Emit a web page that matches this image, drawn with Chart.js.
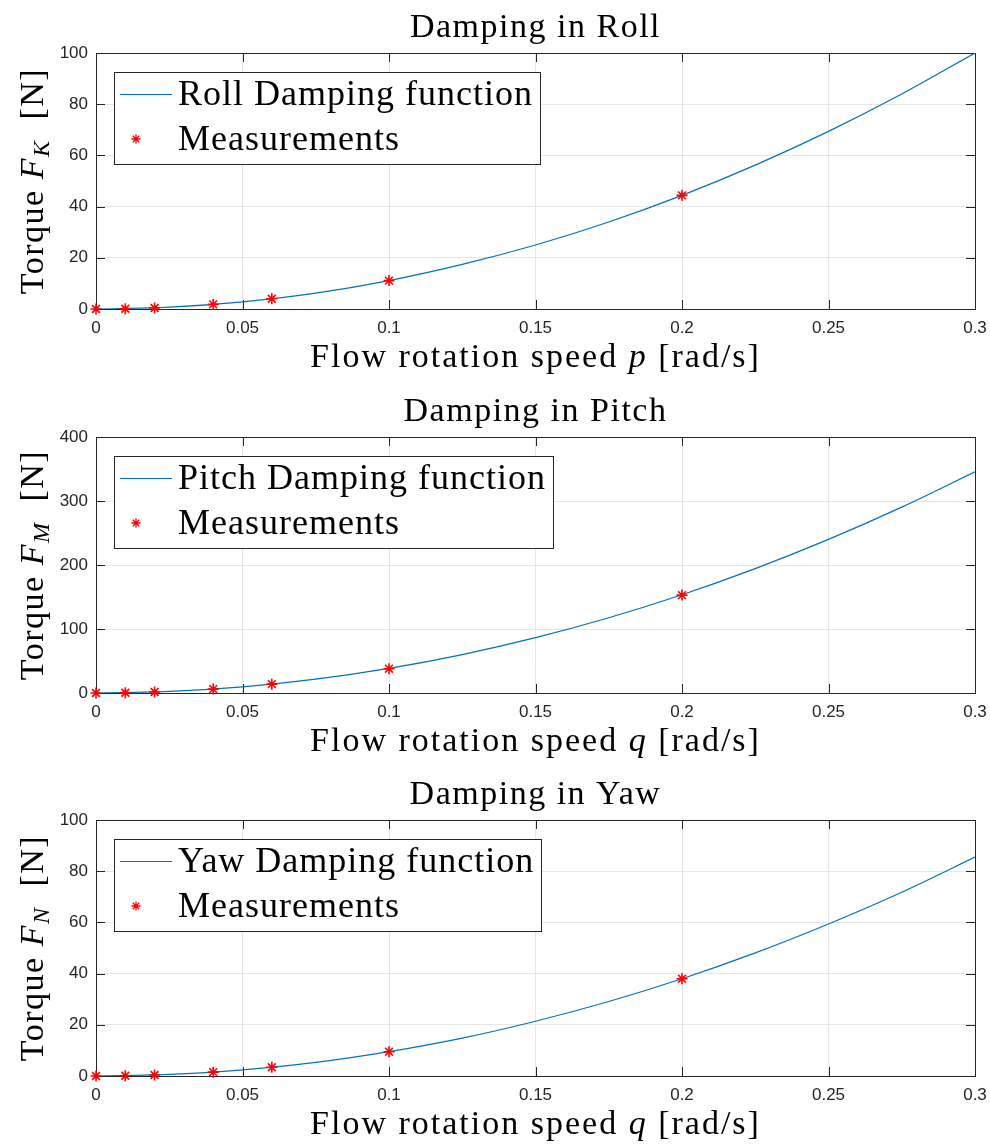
<!DOCTYPE html>
<html>
<head>
<meta charset="utf-8">
<script src="https://cdn.jsdelivr.net/npm/chart.js@4.4.1/dist/chart.umd.min.js"></script>
<style>
  body { margin: 0; background: #fff; }
  .painel { position: absolute; left: 0; width: 990px; height: 380px; }
</style>
</head>
<body>
<div class="painel" style="top:0px"><canvas id="graficoRoll" width="990" height="380"></canvas></div>
<div class="painel" style="top:384px"><canvas id="graficoPitch" width="990" height="380"></canvas></div>
<div class="painel" style="top:767px"><canvas id="graficoYaw" width="990" height="377"></canvas></div>
<script>
// dados
const curveX = [0, 0.025, 0.05, 0.075, 0.1, 0.125, 0.15, 0.175, 0.2, 0.225, 0.25, 0.275, 0.3];
const rollCurve  = [0, 0.7, 2.8, 6.2, 11.1, 17.4, 25.0, 34.0, 44.4, 56.2, 69.4, 84.0, 100.0];
const pitchCurve = [0, 2.4, 9.6, 21.6, 38.4, 60.0, 86.4, 117.6, 153.6, 194.4, 240.0, 290.4, 345.6];
const yawCurve   = [0, 0.6, 2.4, 5.3, 9.5, 14.8, 21.4, 29.1, 38.0, 48.1, 59.4, 71.8, 85.5];

const measX     = [0, 0.01, 0.02, 0.04, 0.06, 0.1, 0.2];
const rollMeas  = [0, 0.1, 0.4, 1.8, 4.0, 11.1, 44.4];
const pitchMeas = [0, 0.4, 1.5, 6.1, 13.8, 38.0, 153.0];
const yawMeas   = [0, 0.1, 0.4, 1.5, 3.4, 9.5, 38.0];

const xTicks      = [0, 0.05, 0.1, 0.15, 0.2, 0.25, 0.3];
const rollYTicks  = [0, 20, 40, 60, 80, 100];
const pitchYTicks = [0, 100, 200, 300, 400];
const yawYTicks   = [0, 20, 40, 60, 80, 100];

const serif = '"Liberation Serif", "Times New Roman", serif';
const corEixo = "#262626";

// desenha texto com partes em italico / subscrito
function textoRico(ctx, partes, cx, base, espaco) {
    ctx.letterSpacing = espaco;
    let total = 0;
    partes.forEach(p => { ctx.font = p.f; total += ctx.measureText(p.t).width; });
    let x = cx - total / 2;
    ctx.textAlign = "left";
    ctx.textBaseline = "alphabetic";
    partes.forEach(p => {
        ctx.font = p.f;
        ctx.fillText(p.t, x, base + (p.dy || 0));
        x += ctx.measureText(p.t).width;
    });
    ctx.letterSpacing = "0px";
}

const decoracao = {
    id: "decoracao",
    beforeDatasetsDraw(chart) {
        const ctx = chart.ctx;
        const a = chart.chartArea;
        ctx.save();
        ctx.strokeStyle = corEixo;
        ctx.lineWidth = 1;
        ctx.strokeRect(Math.round(a.left) + 0.5, Math.round(a.top) + 0.5,
            Math.round(a.right - a.left), Math.round(a.bottom - a.top));
        const tam = 9;
        ctx.beginPath();
        chart.scales.x.ticks.forEach(t => {
            const px = Math.round(chart.scales.x.getPixelForValue(t.value)) + 0.5;
            ctx.moveTo(px, a.bottom); ctx.lineTo(px, a.bottom - tam);
            ctx.moveTo(px, a.top); ctx.lineTo(px, a.top + tam);
        });
        chart.scales.y.ticks.forEach(t => {
            const py = Math.round(chart.scales.y.getPixelForValue(t.value)) + 0.5;
            ctx.moveTo(a.left, py); ctx.lineTo(a.left + tam, py);
            ctx.moveTo(a.right, py); ctx.lineTo(a.right - tam, py);
        });
        ctx.stroke();
        ctx.restore();
    },
    afterDraw(chart, args, opts) {
        const ctx = chart.ctx;
        const a = chart.chartArea;
        const cx = (a.left + a.right) / 2;
        ctx.save();
        ctx.fillStyle = "#000";

        // titulo
        textoRico(ctx, [{ t: opts.titulo, f: "34px " + serif }], cx, a.top - 16, "1.5px");

        // rotulo x
        textoRico(ctx, [
            { t: "Flow rotation speed ", f: "34px " + serif },
            { t: opts.varX, f: "italic 34px " + serif },
            { t: " [rad/s]", f: "34px " + serif }
        ], cx, a.bottom + 58, "2px");

        // rotulo y
        ctx.save();
        ctx.translate(43, (a.top + a.bottom) / 2);
        ctx.rotate(-Math.PI / 2);
        textoRico(ctx, [
            { t: "Torque ", f: "34px " + serif },
            { t: "F", f: "italic 34px " + serif },
            { t: opts.subY, f: "italic 24px " + serif, dy: 6 },
            { t: "  [N]", f: "34px " + serif }
        ], 0, 0, "1.5px");
        ctx.restore();

        // legenda dentro da area
        const ds = chart.data.datasets;
        const lx = a.left + 18, ly = a.top + 19;
        const tx = lx + 64;
        ctx.font = "36px " + serif;
        ctx.letterSpacing = "1px";
        const larg = Math.max(...ds.map(d => ctx.measureText(d.label).width));
        const w = tx - lx + larg + 7, h = 92;
        ctx.fillStyle = "#fff";
        ctx.fillRect(lx, ly, w, h);
        ctx.strokeStyle = corEixo;
        ctx.lineWidth = 1;
        ctx.strokeRect(Math.round(lx) + 0.5, Math.round(ly) + 0.5, Math.round(w), h);
        ds.forEach((d, i) => {
            const yc = ly + 22 + i * 45;
            if (d.showLine === false) {
                ctx.save();
                ctx.strokeStyle = d.borderColor;
                ctx.fillStyle = d.backgroundColor;
                ctx.lineWidth = 1.3;
                Chart.helpers.drawPoint(ctx, {
                    pointStyle: d.pointStyle, radius: 4.5, borderWidth: 1.3
                }, lx + 22, yc);
                ctx.restore();
            } else {
                ctx.strokeStyle = d.borderColor;
                ctx.lineWidth = d.borderWidth;
                ctx.beginPath();
                ctx.moveTo(lx + 6, yc + 0.5); ctx.lineTo(lx + 58, yc + 0.5);
                ctx.stroke();
            }
            ctx.fillStyle = "#000";
            ctx.textAlign = "left";
            ctx.textBaseline = "alphabetic";
            ctx.fillText(d.label, tx, yc + 11);
        });
        ctx.letterSpacing = "0px";
        ctx.restore();
    }
};

function chartAltura(id) {
    return document.getElementById(id).height;
}

function criarGrafico(id, titulo, nomeLinha, curva, medidas, yTicks, varX, subY) {
    const ctx = document.getElementById(id).getContext("2d");
    return new Chart(ctx, {
        type: "scatter",
        data: {
            datasets: [
                {
                    label: nomeLinha,
                    data: curveX.map((x, i) => ({ x: x, y: curva[i] })),
                    showLine: true,
                    borderColor: "#0072BD",
                    borderWidth: 1.2,
                    pointRadius: 0,
                    cubicInterpolationMode: "monotone",
                    order: 1
                },
                {
                    label: "Measurements",
                    data: measX.map((x, i) => ({ x: x, y: medidas[i] })),
                    showLine: false,
                    pointStyle: "star",
                    pointRadius: 5.5,
                    borderColor: "#ff0000",
                    backgroundColor: "#ff0000",
                    borderWidth: 1.6,
                    clip: false,
                    order: 0
                }
            ]
        },
        options: {
            responsive: false,
            animation: false,
            events: [],
            layout: { padding: { top: 53, right: 15, left: 0, bottom: 0 } },
            plugins: {
                legend: { display: false },
                title: { display: false },
                tooltip: { enabled: false },
                decoracao: { titulo: titulo, varX: varX, subY: subY }
            },
            scales: {
                x: {
                    type: "linear",
                    min: 0, max: 0.3,
                    afterBuildTicks: s => { s.ticks = xTicks.map(v => ({ value: v })); },
                    afterFit: s => {
                        s.height = chartAltura(id) - 309;
                        s.paddingLeft = 0;
                        s.paddingRight = 0;
                    },
                    grid: { color: "#e6e6e6", drawTicks: false },
                    border: { display: false },
                    ticks: {
                        padding: 9,
                        color: corEixo,
                        font: { family: "Liberation Sans, Arial, sans-serif", size: 17 },
                        callback: v => String(parseFloat(v.toFixed(2)))
                    }
                },
                y: {
                    min: yTicks[0], max: yTicks[yTicks.length - 1],
                    afterBuildTicks: s => { s.ticks = yTicks.map(v => ({ value: v })); },
                    afterFit: s => { s.width = 96; s.paddingTop = 0; s.paddingBottom = 0; },
                    grid: { color: "#e6e6e6", drawTicks: false },
                    border: { display: false },
                    ticks: {
                        padding: 8,
                        color: corEixo,
                        font: { family: "Liberation Sans, Arial, sans-serif", size: 17 }
                    }
                }
            }
        },
        plugins: [decoracao]
    });
}

criarGrafico("graficoRoll", "Damping in Roll", "Roll Damping function", rollCurve, rollMeas, rollYTicks, "p", "K");
criarGrafico("graficoPitch", "Damping in Pitch", "Pitch Damping function", pitchCurve, pitchMeas, pitchYTicks, "q", "M");
criarGrafico("graficoYaw", "Damping in Yaw", "Yaw Damping function", yawCurve, yawMeas, yawYTicks, "q", "N");
</script>
</body>
</html>
